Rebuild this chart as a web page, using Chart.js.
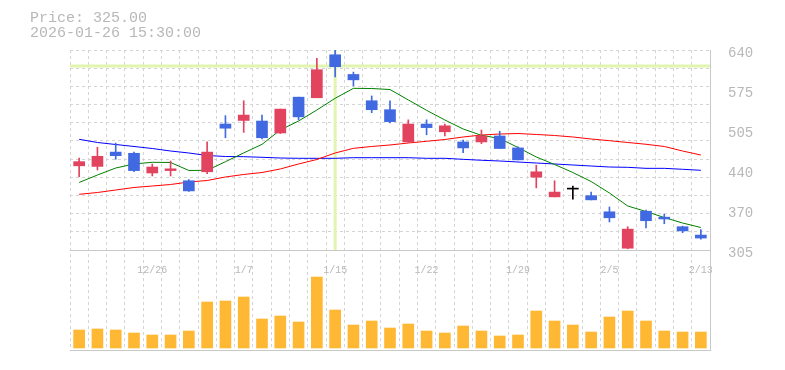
<!DOCTYPE html>
<html>
<head>
<meta charset="utf-8">
<script src="https://cdn.jsdelivr.net/npm/chart.js@4.4.1/dist/chart.umd.min.js"></script>
<style>
    body { margin: 0; background: #fff; }
    #wrap { position: relative; width: 785px; height: 370px; }
    #chart { position: absolute; left: 0; top: 0; }
    #info { position: absolute; left: 30px; top: 12px; font: 15px/14.5px "Liberation Mono", monospace; color: #b8b8b8; white-space: pre; }
</style>
</head>
<body>
<div id="wrap">
    <canvas id="chart" width="785" height="370"></canvas>
    <div id="info">Price: 325.00<br>2026-01-26 15:30:00</div>
</div>
<script>
// Dagen (handelsdagen)
const dates = ['12/22', '12/23', '12/24', '12/25', '12/26', '12/29', '12/30', '1/5', '1/6', '1/7',
    '1/8', '1/9', '1/13', '1/14', '1/15', '1/16', '1/19', '1/20', '1/21', '1/22',
    '1/23', '1/26', '1/27', '1/28', '1/29', '1/30', '2/2', '2/3', '2/4', '2/5',
    '2/6', '2/9', '2/10', '2/12', '2/13'];

const openP = [446, 445, 469, 467, 434, 438, 421, 436, 516, 522, 521, 501, 561, 560, 632, 599, 555, 540, 486, 516,
    503, 486, 486, 496, 476, 427, 394, 407, 396, 369, 308, 370, 360, 344, 330];
const highP = [459, 477, 484, 469, 449, 454, 423, 486, 530, 555, 531, 541, 561, 626, 640, 603, 563, 555, 523, 523,
    516, 489, 506, 504, 478, 447, 421, 412, 402, 377, 344, 372, 365, 345, 339];
const lowP = [428, 439, 457, 436, 429, 429, 403, 433, 493, 502, 491, 500, 523, 560, 595, 580, 535, 518, 485, 498,
    496, 468, 483, 475, 456, 409, 394, 390, 389, 352, 307, 342, 349, 334, 323];
const closeP = [453, 462, 463, 438, 444, 441, 404, 469, 509, 531, 493, 541, 528, 607, 612, 590, 540, 520, 516, 510,
    513, 476, 496, 475, 456, 436, 402, 407, 389, 359, 340, 354, 357, 337, 325];

// Voortschrijdende gemiddelden
const ma5 = [418.1, 430.6, 442.3, 449.1, 451.9, 451.6, 438.2, 438.5, 452.9, 467.6, 482.0, 506.0, 521.1, 539.5, 559.1,
    575.8, 575.5, 573.8, 556.4, 539.0, 522.8, 507.7, 497.1, 491.8, 476.7, 460.8, 448.2, 434.8, 419.7, 400.5,
    378.7, 369.5, 359.4, 350.2, 342.7];
const ma25 = [398.3, 401.3, 405.5, 409.7, 412.2, 414.7, 418.9, 421.4, 427.3, 431.5, 434.8, 440.7, 449.1, 456.6, 467.5,
    475.3, 478.4, 480.9, 484.2, 487.1, 490.1, 494.3, 497.6, 499.3, 500.1, 498.5, 496.8, 494.3, 490.9, 488.1,
    485.1, 482.1, 478.4, 470.8, 464.1];
const ma75 = [490.4, 485.1, 481.7, 478.4, 475.0, 470.8, 467.5, 463.3, 461.6, 461.3, 460.3, 459.1, 458.6, 458.6, 458.6,
    459.6, 459.6, 459.6, 459.6, 458.6, 458.6, 456.9, 455.3, 454.1, 452.4, 450.7, 449.1, 447.4, 445.7, 444.0,
    443.5, 441.8, 441.8, 440.2, 438.5];

// Volume (x1000)
const volume = [180, 190, 180, 150, 130, 130, 170, 460, 470, 510, 290, 320, 260, 710, 380, 230, 270, 200, 240, 170,
    150, 220, 170, 120, 130, 370, 270, 230, 160, 310, 370, 270, 170, 160, 160];

const priceLabels = ['305', '370', '440', '505', '575', '640'];
const dateLabels = ['12/26', '1/7', '1/15', '1/22', '1/29', '2/5', '2/13'];

const PRICE_MIN = 305;
const PRICE_MAX = 640;
const VOL_MIN = -20;
const VOL_MAX = 2980;
const CROSS_INDEX = 14;
const CROSS_PRICE = 613;

const UP = '#e2445f';
const DOWN = '#4169e1';
const EVEN = '#000000';
const GRID = '#d4d4d4';
const FRAME = '#c8c8c8';
const TEXT = '#b8b8b8';

function candleColor(i) {
    if (closeP[i] > openP[i]) return UP;
    if (closeP[i] < openP[i]) return DOWN;
    return EVEN;
}

const colors = dates.map((d, i) => candleColor(i));
const bodies = dates.map((d, i) => [openP[i], closeP[i]]);
const wicks = dates.map((d, i) => [lowP[i], highP[i]]);

// koersdeel boven (2/3), volumedeel onder (1/3)
const axisMin = PRICE_MIN - (PRICE_MAX - PRICE_MIN) / 2;

//Kruisdraad onder de candles
const crosshair = {
    id: 'crosshair',
    beforeDatasetsDraw(chart) {
        const ctx = chart.ctx;
        const area = chart.chartArea;
        const x = chart.scales.x.getPixelForValue(CROSS_INDEX);
        const yTop = chart.scales.y.getPixelForValue(PRICE_MAX);
        const yBottom = chart.scales.y.getPixelForValue(PRICE_MIN);
        const yPrice = chart.scales.y.getPixelForValue(CROSS_PRICE);
        ctx.save();
        ctx.strokeStyle = '#e2f5b0';
        ctx.lineWidth = 3;
        ctx.beginPath();
        ctx.moveTo(x, yTop);
        ctx.lineTo(x, yBottom);
        ctx.moveTo(area.left, yPrice);
        ctx.lineTo(area.right, yPrice);
        ctx.stroke();
        ctx.restore();
    }
};

const ctx = document.getElementById('chart').getContext('2d');
const myChart = new Chart(ctx, {
    type: 'bar',
    data: {
        labels: dates,
        datasets: [
            { type: 'line', data: ma5, borderColor: '#008000', borderWidth: 1, pointRadius: 0, yAxisID: 'y', order: 1 },
            { type: 'line', data: ma25, borderColor: '#ff0000', borderWidth: 1, pointRadius: 0, yAxisID: 'y', order: 1 },
            { type: 'line', data: ma75, borderColor: '#0000ff', borderWidth: 1, pointRadius: 0, yAxisID: 'y', order: 1 },
            { data: wicks, backgroundColor: colors, barThickness: 1, grouped: false, yAxisID: 'y', order: 0 },
            { data: bodies, backgroundColor: colors, barThickness: 11, minBarLength: 1, grouped: false, yAxisID: 'y', order: 0 },
            { data: volume, backgroundColor: '#ffb833', barThickness: 11, grouped: false, yAxisID: 'yv', order: 0 }
        ]
    },
    options: {
        responsive: false,
        animation: false,
        devicePixelRatio: 1,
        layout: { padding: { left: 70, top: 50, bottom: 20, right: 0 } },
        plugins: { legend: { display: false }, tooltip: { enabled: false } },
        scales: {
            x: {
                type: 'category',
                offset: true,
                grid: { offset: true, color: GRID, drawTicks: false },
                border: { color: FRAME, dash: (c) => c.type === 'tick' ? [3, 3] : [] },
                ticks: { display: false }
            },
            xl: {
                type: 'category',
                position: { y: PRICE_MIN },
                offset: true,
                grid: { display: false },
                border: { display: false },
                ticks: {
                    autoSkip: false,
                    maxRotation: 0,
                    padding: 6,
                    color: TEXT,
                    font: { family: 'Liberation Mono', size: 10 },
                    callback: function (value) {
                        const label = this.getLabelForValue(value);
                        return dateLabels.includes(label) ? label : '';
                    }
                }
            },
            y: {
                position: 'right',
                min: axisMin,
                max: PRICE_MAX,
                grid: { display: false },
                border: { color: FRAME },
                afterBuildTicks: (scale) => {
                    scale.ticks = priceLabels.map((l, i) => ({ value: PRICE_MIN + i * (PRICE_MAX - PRICE_MIN) / (priceLabels.length - 1) }));
                },
                afterFit: (scale) => { scale.width = 75; },
                ticks: {
                    padding: 10,
                    labelOffset: 3,
                    color: TEXT,
                    font: { family: 'Liberation Mono', size: 14 },
                    callback: (value, index) => priceLabels[index]
                }
            },
            yg: {
                position: 'right',
                min: axisMin,
                max: PRICE_MAX,
                afterBuildTicks: (scale) => {
                    scale.ticks = [];
                    for (let i = 0; i <= 11; i++) {
                        scale.ticks.push({ value: PRICE_MIN + i * (PRICE_MAX - PRICE_MIN) / 11 });
                    }
                },
                grid: { drawTicks: false, color: (c) => c.index === 0 ? FRAME : GRID },
                border: { display: false, dash: (c) => c.index === 0 ? [] : [3, 3] },
                ticks: { display: false }
            },
            yv: {
                display: false,
                min: VOL_MIN,
                max: VOL_MAX
            }
        }
    },
    plugins: [crosshair]
});
</script>
</body>
</html>
